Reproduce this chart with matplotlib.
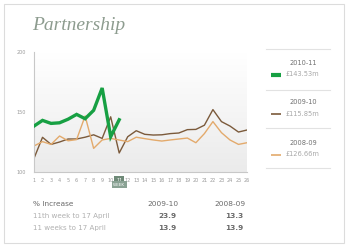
import matplotlib
matplotlib.use("Agg")
import matplotlib.pyplot as plt
import numpy as np
from matplotlib.patches import Rectangle
from matplotlib.lines import Line2D

weeks = list(range(1, 27))
week_labels = [str(w) for w in weeks]
y_ticks = [100, 150, 200]

s2010_11 = [138.3, 143.0, 140.5, 141.0, 144.0, 148.0, 144.4, 151.4, 170.0, 129.4, 143.53]
s2009_10 = [111.4, 128.9, 123.0, 125.0, 127.5, 127.5, 129.0, 131.0, 128.0, 146.0, 115.85,
            129.4, 134.4, 131.4, 130.8, 131.0, 132.0, 132.5, 135.3, 135.5, 139.0, 152.0,
            142.0, 138.3, 133.3, 135.0]
s2008_09 = [121.7, 125.3, 123.0, 130.0, 126.0, 127.0, 146.7, 119.7, 126.7, 128.0, 126.66,
            125.3, 129.0, 127.8, 126.7, 125.8, 126.7, 127.5, 128.3, 124.4, 132.0, 142.0,
            132.8, 126.7, 123.0, 124.4]

series_names = ["2010-11", "2009-10", "2008-09"]
series_totals = ["£143.53m", "£115.85m", "£126.66m"]
colors = ["#17a043", "#7b5a3b", "#e3aa6c"]
widths = [2.4, 1.0, 1.0]

table_header = ["% Increase", "2009-10", "2008-09"]
table_rows = ["11th week to 17 April", "11 weeks to 17 April"]
table_vals = [["23.9", "13.3"], ["13.9", "13.9"]]
current_week = 11

W, H = 350, 250
fig = plt.figure(figsize=(3.5, 2.5), dpi=100)
fig.patch.set_facecolor("#ffffff")

def fx(px):
    return px / W

def fy(py):
    return 1 - py / H

# card
card = Rectangle((fx(4), fy(243)), fx(340), 239 / H, transform=fig.transFigure,
                 facecolor="white", edgecolor="#dcdcdc", linewidth=0.8, zorder=-10)
fig.add_artist(card)

fig.text(fx(32), fy(25), "Partnership", family="Liberation Serif", style="italic",
         fontsize=14, color="#8d9c8f", va="center", ha="left")

ax = fig.add_axes([fx(34), fy(172), fx(213), 120 / H])
ax.set_zorder(2)
ax.patch.set_alpha(0)
ax.set_xlim(1, 26)
ax.set_ylim(100, 200)
grad = np.linspace(0, 1, 100).reshape(-1, 1)
ax.imshow(grad, extent=[1, 26, 100, 200], aspect="auto", origin="upper",
          cmap=matplotlib.colors.LinearSegmentedColormap.from_list("g", ["#ffffff", "#ebebeb"]),
          zorder=0)
for sp in ["top", "right"]:
    ax.spines[sp].set_visible(False)
for sp in ["left", "bottom"]:
    ax.spines[sp].set_color("#c8c8c8")
    ax.spines[sp].set_linewidth(0.8)

for data, c, lw in zip([s2009_10, s2008_09], colors[1:], widths[1:]):
    ax.plot(weeks[:len(data)], data, color=c, lw=lw, zorder=2)
ax.plot(weeks[:len(s2010_11)], s2010_11, color=colors[0], lw=widths[0], zorder=3,
        solid_joinstyle="miter")

ax.set_yticks(y_ticks)
ax.set_yticklabels([str(t) for t in y_ticks], fontsize=3.5, color="#9a9a9a")
ax.set_xticks(weeks)
ax.set_xticklabels(week_labels, fontsize=3.5, color="#9a9a9a")
ax.tick_params(length=0, pad=4)
ax.tick_params(axis="y", pad=6)
for lbl in ax.get_xticklabels():
    if lbl.get_text() == str(current_week):
        lbl.set_color("white")
        lbl.set_bbox(dict(boxstyle="square,pad=0.35", facecolor="#6f8a78", edgecolor="none"))
ax.text(current_week, -0.105, "WEEK", transform=ax.get_xaxis_transform(), fontsize=3,
        color="white", ha="center", va="center",
        bbox=dict(boxstyle="square,pad=0.4", facecolor="#8aa294", edgecolor="none"))

# legend panel
for yy in [49, 90, 128, 168]:
    fig.add_artist(Line2D([fx(266), fx(330)], [fy(yy), fy(yy)], color="#e2e2e2", lw=0.8,
                          transform=fig.transFigure))
ys_name = [63, 102, 143]
for i in range(3):
    fig.text(fx(303), fy(ys_name[i]), series_names[i], fontsize=4.8, color="#707070",
             ha="center", va="center")
    fig.text(fx(286), fy(ys_name[i] + 11.5), series_totals[i], fontsize=4.8, color="#a8a8a8",
             ha="left", va="center")
    fig.add_artist(Line2D([fx(271), fx(281)], [fy(ys_name[i] + 11.5)] * 2, color=colors[i],
                          lw=3.0 if i == 0 else 1.2, transform=fig.transFigure,
                          solid_capstyle="butt"))

# table
fig.text(fx(33), fy(204), table_header[0], fontsize=5.3, color="#6a6a6a", ha="left", va="center")
fig.text(fx(163), fy(204), table_header[1], fontsize=5.3, color="#6a6a6a", ha="center", va="center")
fig.text(fx(230), fy(204), table_header[2], fontsize=5.3, color="#6a6a6a", ha="center", va="center")
for r, (name, vals) in enumerate(zip(table_rows, table_vals)):
    yy = 216 + r * 12
    fig.text(fx(33), fy(yy), name, fontsize=5.1, color="#b0b0b0", ha="left", va="center")
    fig.text(fx(167), fy(yy), vals[0], fontsize=5.3, color="#6a6a6a", ha="center", va="center",
             fontweight="bold")
    fig.text(fx(234), fy(yy), vals[1], fontsize=5.3, color="#6a6a6a", ha="center", va="center",
             fontweight="bold")

fig.savefig("out.png", dpi=100)
